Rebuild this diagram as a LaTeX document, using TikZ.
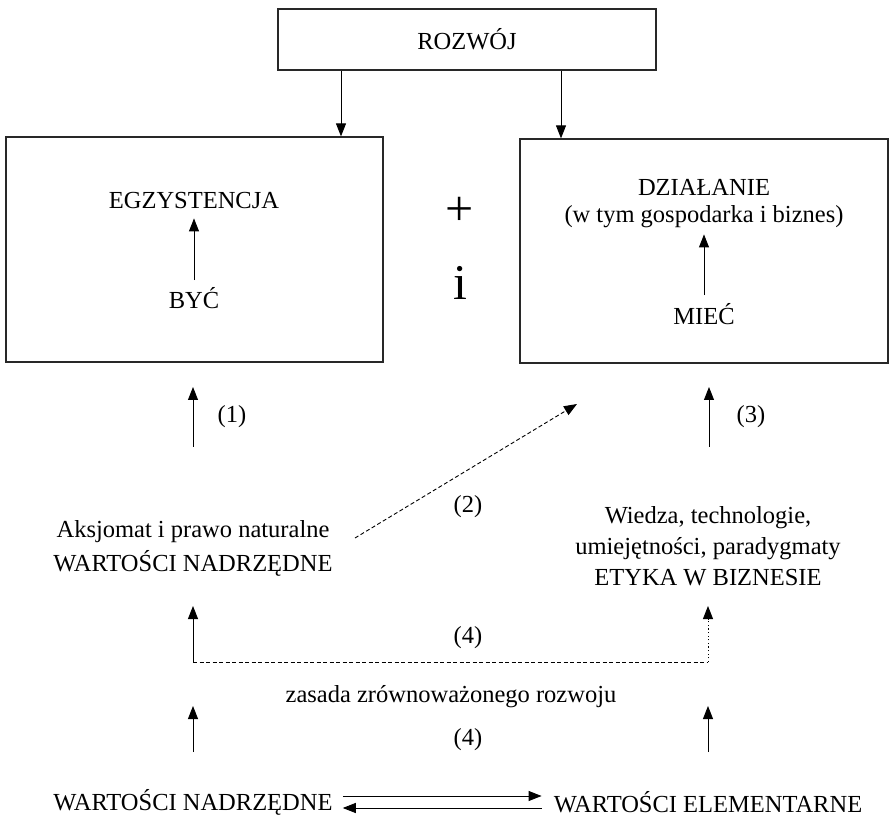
\documentclass[tikz,border=0pt]{standalone}
\usepackage{fontspec}
\setmainfont{Liberation Serif}
\usetikzlibrary{arrows.meta}
\definecolor{framegray}{RGB}{40,40,40}

\begin{document}
\begin{tikzpicture}[x=1pt,y=-1pt,
  box/.style={draw=framegray, line width=1.2pt, inner sep=0pt},
  txt/.style={font=\fontsize{24.5}{31}\selectfont, align=center, inner sep=2pt},
  big/.style={font=\fontsize{50}{52}\selectfont, inner sep=0pt},
  arr/.style={-{Triangle[length=13pt,width=10pt]}, line width=0.9pt},
  dasharr/.style={arr, dash pattern=on 4pt off 2.5pt},
  dotarr/.style={arr, dash pattern=on 1.2pt off 2.4pt},
  dashline/.style={line width=0.9pt, dash pattern=on 4pt off 2.5pt}]
\useasboundingbox (0,0) rectangle (895,818);

% Top box
\node[box, txt, minimum width=378pt, minimum height=61pt] (rozwoj) at (467,39.5) {ROZWÓJ};

% Two main boxes
\node[box, minimum width=377pt, minimum height=225pt] (egzbox) at (194.5,249.5) {};
\node[box, minimum width=368pt, minimum height=224pt] (dzbox) at (704,251) {};
\draw[arr] ([xshift=-126pt]rozwoj.south) -- ([xshift=-126pt]rozwoj.south |- egzbox.north);
\draw[arr] ([xshift=94pt]rozwoj.south) -- ([xshift=94pt]rozwoj.south |- dzbox.north);

\node[txt] (egz) at (194,201) {EGZYSTENCJA};
\node[txt] (byc) at (194,298) {BYĆ};
\draw[arr, shorten <=5pt, shorten >=7pt] (byc) -- (egz);

\node[txt, font=\fontsize{24.5}{27}\selectfont] (dz) at (704,204) {DZIAŁANIE\\(w tym gospodarka i biznes)};
\node[txt] (miec) at (704,314) {MIEĆ};
\draw[arr, shorten <=6pt, shorten >=4pt] (miec) -- (dz);

\node[big] (plus) at (460,211) {+};
\node[big] (andi) at (460,283) {i};

% Arrows (1), (2), (3)
\coordinate (a1s) at (193,447);
\coordinate (a1e) at (193,387);
\draw[arr] (a1s) -- (a1e);
\node[txt] (n1) at (232,417) {(1)};

\coordinate (a3s) at (709,447);
\coordinate (a3e) at (709,387);
\draw[arr] (a3s) -- (a3e);
\node[txt] (n3) at (751,417) {(3)};

\node[txt, font=\fontsize{24.5}{34}\selectfont] (aks) at (193,548) {Aksjomat i prawo naturalne\\WARTOŚCI NADRZĘDNE};
\node[txt] (wiedza) at (708,546) {Wiedza, technologie,\\umiejętności, paradygmaty\\ETYKA W BIZNESIE};

\coordinate (a2s) at (355,538);
\coordinate (a2e) at (577,404);
\draw[dasharr] (a2s) -- (a2e);
\node[txt] (n2) at (468,507) {(2)};

% Arrows (4)
\coordinate (c4l) at (193,662);
\coordinate (c4r) at (708,662);
\coordinate (t4l) at (193,606);
\coordinate (t4r) at (708,606);
\draw[arr] (c4l) -- (t4l);
\draw[dashline] (c4l) -- (c4r);
\draw[dotarr] (c4r) -- (t4r);
\node[txt] (n4a) at (468,638) {(4)};
\node[txt] (zasada) at (451,697) {zasada zrównoważonego rozwoju};

\coordinate (b4l) at (193,752);
\coordinate (b4r) at (708,752);
\coordinate (u4l) at (193,706);
\coordinate (u4r) at (708,706);
\draw[arr] (b4l) -- (u4l);
\draw[arr] (b4r) -- (u4r);
\node[txt] (n4b) at (468,740) {(4)};

% Bottom values
\node[txt] (nadrz) at (193,802) {WARTOŚCI NADRZĘDNE};
\node[txt] (elem) at (708,802) {WARTOŚCI ELEMENTARNE};
\draw[arr, shorten <=8pt, shorten >=10pt] ([yshift=6pt]nadrz.east) -- ([yshift=6pt]elem.west);
\draw[arr, shorten <=10pt, shorten >=8pt] ([yshift=-6pt]elem.west) -- ([yshift=-6pt]nadrz.east);
\end{tikzpicture}
\end{document}
